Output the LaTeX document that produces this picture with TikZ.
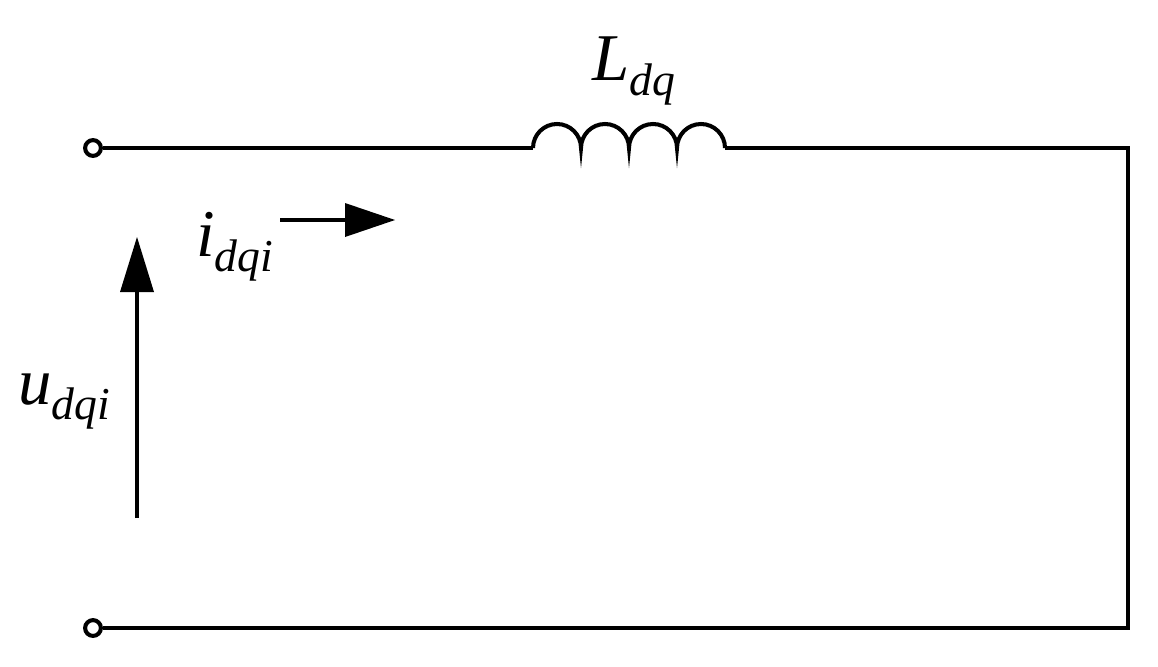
\documentclass[tikz,border=0pt]{standalone}
\usepackage{fontspec}
\setmainfont{Liberation Serif}
\begin{document}
\begin{tikzpicture}[x=0.02cm,y=-0.02cm,
  wire/.style={line width=2.3pt},
  term/.style={circle,draw,line width=2.3pt,minimum size=9pt,inner sep=0pt,fill=white},
  lbl/.style={inner sep=0pt,font=\fontsize{38}{40}\selectfont\itshape}]
\useasboundingbox (0,0) rectangle (1158,666);
\node[term] (t1) at (93,148) {};
\node[term] (t2) at (93,628) {};
\coordinate (l1) at (533,148);
\coordinate (l2) at (725,148);
\coordinate (c1) at (1128,148);
\coordinate (c2) at (1128,628);
\draw[wire] (t1) -- (l1);
\draw[wire] (l1) arc[start angle=180,end angle=360,radius=24]
  arc[start angle=180,end angle=360,radius=24]
  arc[start angle=180,end angle=360,radius=24]
  arc[start angle=180,end angle=360,radius=24];
\draw[wire] (l2) -- (c1) -- (c2) -- (t2);
% current arrow
\coordinate (ia) at (280,220);
\coordinate (ib) at (395,220);
\draw[wire] (ia) -- (350,220);
\fill (ib) -- (345,203) -- (345,237) -- cycle;
% voltage arrow
\coordinate (ua) at (137,518);
\coordinate (ub) at (137,237);
\draw[wire] (ua) -- (137,285);
\fill (ub) -- (120,292) -- (154,292) -- cycle;
\node[lbl,anchor=base west] (L) at (592,80) {L\raisebox{-9pt}{\fontsize{26}{28}\selectfont dq}};
\node[lbl,anchor=base west] (i) at (196,256) {i\raisebox{-9pt}{\fontsize{26}{28}\selectfont dqi}};
\node[lbl,anchor=base west] (u) at (18,404) {u\raisebox{-9pt}{\fontsize{26}{28}\selectfont dqi}};
\end{tikzpicture}
\end{document}
